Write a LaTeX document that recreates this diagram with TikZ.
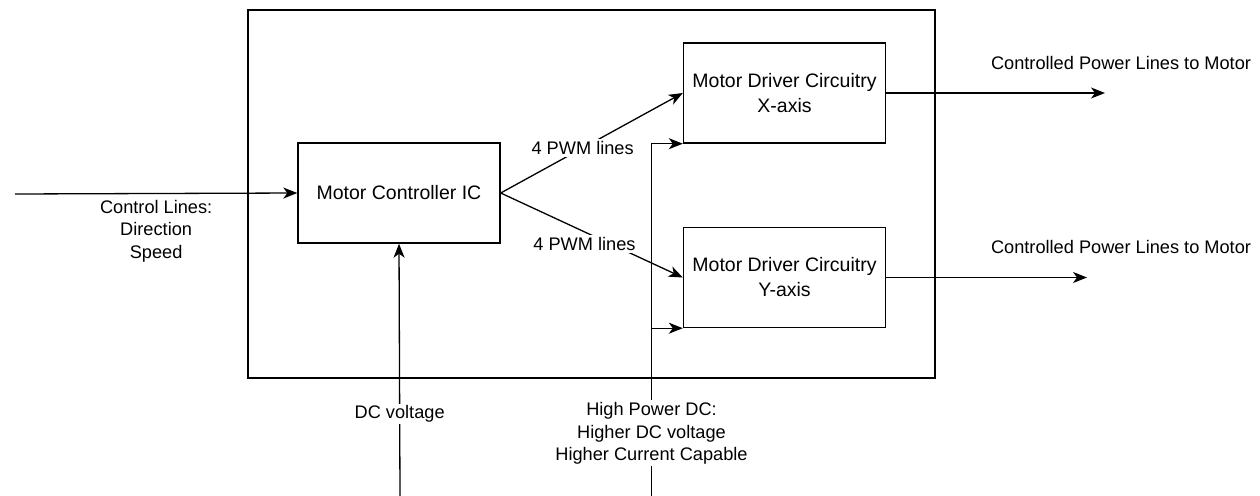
\documentclass[tikz,border=0pt]{standalone}
\usepackage{fontspec}
\setmainfont{Liberation Sans}
\usepackage{tikz}
\usetikzlibrary{arrows.meta,positioning,calc}
\tikzset{
  blockbox/.style={
    draw=black,
    fill=white,
    line width=1.4pt,
    minimum width=202pt,
    minimum height=100pt,
    align=center,
    font=\fontsize{19.5}{25}\selectfont
  },
  boardbox/.style={
    draw=black,
    line width=1.4pt,
    minimum width=687pt,
    minimum height=368pt
  },
  lbl/.style={
    align=center,
    inner sep=2pt,
    font=\fontsize{18.2}{22.5}\selectfont
  },
  wire/.style={
    -{Stealth[length=14pt,width=11pt,inset=4pt]},
    line width=1.3pt,
    draw=black
  }
}

\begin{document}
\begin{tikzpicture}[x=1pt,y=-1pt]
\useasboundingbox (0,0) rectangle (1260,495);
\node[boardbox] (board) at (591.5,194) {};
\node[blockbox] (ctrl) at (399,193) {Motor Controller IC};
\node[blockbox] (drvx) at (784.5,93) {Motor Driver Circuitry\\X-axis};
\node[blockbox] (drvy) at (784.5,277.5) {Motor Driver Circuitry\\Y-axis};
\coordinate (ctlin) at (15,194);
\coordinate (dcin) at (400,496);
\coordinate (hpin) at (651.5,496);
\coordinate (outx) at (1105,93);
\coordinate (outy) at (1087,277.5);
\draw[wire] (ctlin) -- node[midway, below=4pt, lbl] {Control Lines:\\Direction\\Speed} (ctrl.west);
\draw[wire] (ctrl.east) -- node[pos=0.45, lbl, fill=white] {4 PWM lines} (drvx.west);
\draw[wire] (ctrl.east) -- node[pos=0.46, yshift=-12pt, lbl, fill=white] {4 PWM lines} (drvy.west);
\draw[wire] (dcin) -- node[pos=0.325, lbl, fill=white] {DC voltage} (ctrl.south);
\draw[wire] (hpin) -- node[pos=0.178, lbl, fill=white] {High Power DC:\\Higher DC voltage\\Higher Current Capable} (hpin |- drvx.south west) -- (drvx.south west);
\draw[wire] (hpin |- drvy.south west) -- (drvy.south west);
\draw[wire] (drvx.east) -- node[at end, above=21pt, xshift=16pt, lbl] {Controlled Power Lines to Motor} (outx);
\draw[wire] (drvy.east) -- node[at end, above=21pt, xshift=34pt, lbl] {Controlled Power Lines to Motor} (outy);
\end{tikzpicture}
\end{document}
